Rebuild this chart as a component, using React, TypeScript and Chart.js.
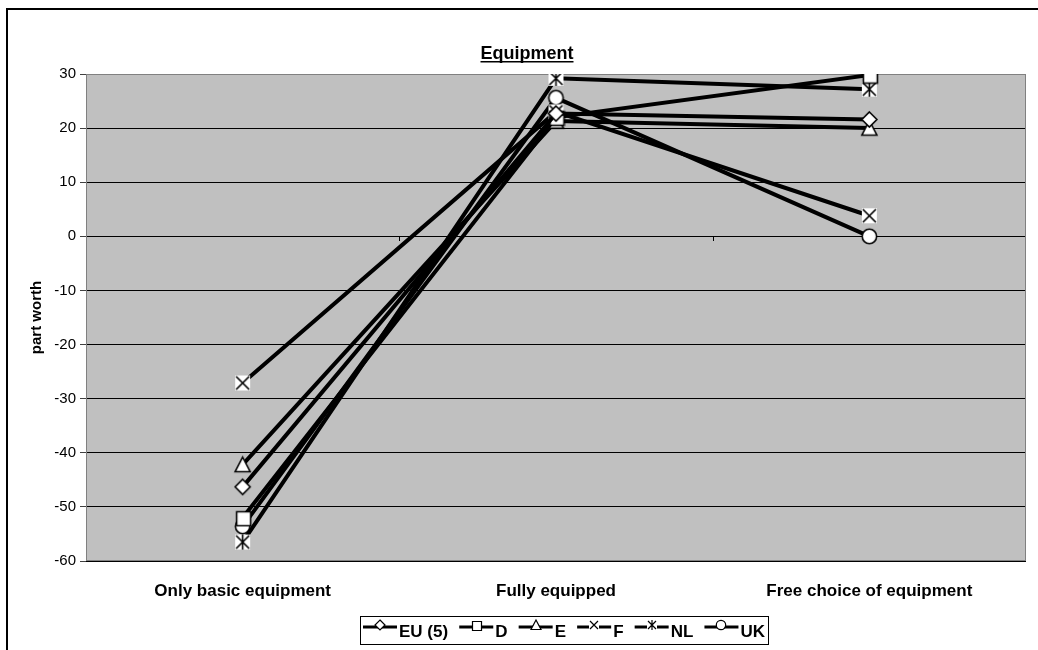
import React, { useEffect, useRef } from "react";
import { Chart, registerables } from "chart.js";
Chart.register(...registerables);

const categories = ["Only basic equipment", "Fully equipped", "Free choice of equipment"];
const seriesNames = ["EU (5)", "D", "E", "F", "NL", "UK"];
const euValues = [-46.3, 22.7, 21.6];
const dValues = [-52.0, 22.0, 29.8];
const eValues = [-42.2, 21.3, 20.0];
const fValues = [-27.1, 23.0, 3.8];
const nlValues = [-56.5, 29.2, 27.2];
const ukValues = [-53.6, 25.6, 0.0];
const markerKinds = ["diamond", "square", "triangle", "x", "star", "circle"];
const yMin = -60;
const yMax = 30;
const yStep = 10;
const chartTitle = "Equipment";
const yAxisTitle = "part worth";

const FONT = "'Liberation Sans', Arial, sans-serif";

function makeMarker(kind: string, size: number, lw: number): HTMLCanvasElement {
  const c = document.createElement("canvas");
  const dim = size + 4;
  c.width = dim;
  c.height = dim;
  const ctx = c.getContext("2d")!;
  const m = dim / 2;
  const h = size / 2;
  ctx.lineWidth = lw;
  ctx.strokeStyle = "#000";
  ctx.fillStyle = "#fff";
  ctx.lineJoin = "miter";
  ctx.beginPath();
  if (kind === "diamond") {
    ctx.moveTo(m, m - h);
    ctx.lineTo(m + h, m);
    ctx.lineTo(m, m + h);
    ctx.lineTo(m - h, m);
    ctx.closePath();
    ctx.fill();
    ctx.stroke();
  } else if (kind === "square") {
    const s = Math.round(size) - 1;
    const x0 = Math.round(m - s / 2) + 0.5;
    ctx.rect(x0, x0, s, s);
    ctx.fill();
    ctx.stroke();
  } else if (kind === "triangle") {
    ctx.moveTo(m, m - h);
    ctx.lineTo(m + h, m + h - 0.5);
    ctx.lineTo(m - h, m + h - 0.5);
    ctx.closePath();
    ctx.fill();
    ctx.stroke();
  } else if (kind === "circle") {
    ctx.arc(m, m, h - 0.3, 0, Math.PI * 2);
    ctx.fill();
    ctx.stroke();
  } else if (kind === "x" || kind === "star") {
    ctx.fillRect(m - h, m - h, size, size);
    ctx.beginPath();
    ctx.moveTo(m - h + 1, m - h + 1);
    ctx.lineTo(m + h - 1, m + h - 1);
    ctx.moveTo(m + h - 1, m - h + 1);
    ctx.lineTo(m - h + 1, m + h - 1);
    if (kind === "star") {
      ctx.moveTo(m, m - h);
      ctx.lineTo(m, m + h);
    }
    ctx.stroke();
  }
  return c;
}

export default function App() {
  const ref = useRef<HTMLCanvasElement | null>(null);

  useEffect(() => {
    document.body.style.margin = "0";
    const canvas = ref.current!;
    const seriesValues = [euValues, dValues, eValues, fValues, nlValues, ukValues];
    const plotMarkers = markerKinds.map((k) => makeMarker(k, 15, 1.6));
    const legendMarkers = markerKinds.map((k) => makeMarker(k, 10, 1.2));

    const decor = {
      id: "decor",
      beforeDraw(chart: any) {
        const { ctx, chartArea: a } = chart;
        ctx.save();
        ctx.fillStyle = "#C0C0C0";
        ctx.fillRect(a.left, a.top, a.right - a.left, a.bottom - a.top);
        ctx.restore();
      },
      beforeDatasetsDraw(chart: any) {
        const { ctx, chartArea: a } = chart;
        const y0 = chart.scales.y.getPixelForValue(0);
        ctx.save();
        ctx.strokeStyle = "#808080";
        ctx.lineWidth = 1;
        ctx.strokeRect(Math.round(a.left) + 0.5, Math.round(a.top) + 0.5, Math.round(a.right - a.left) - 1, Math.round(a.bottom - a.top) - 1);
        ctx.strokeStyle = "#000";
        const w = (a.right - a.left) / categories.length;
        ctx.beginPath();
        for (let k = 1; k < categories.length; k++) {
          const x = Math.round(a.left + k * w) + 0.5;
          ctx.moveTo(x, Math.round(y0));
          ctx.lineTo(x, Math.round(y0) + 5);
        }
        ctx.stroke();
        ctx.restore();
      },
      afterDraw(chart: any) {
        const { ctx, chartArea: a } = chart;
        ctx.save();
        ctx.strokeStyle = "#000";
        ctx.lineWidth = 2;
        ctx.strokeRect(7, 9, 1100, 700);
        ctx.fillStyle = "#000";
        ctx.font = `bold 18px ${FONT}`;
        ctx.textAlign = "center";
        ctx.textBaseline = "alphabetic";
        const tx = 527;
        ctx.fillText(chartTitle, tx, 59);
        const tw = ctx.measureText(chartTitle).width;
        ctx.fillRect(tx - tw / 2, 61, tw, 1.5);
        ctx.save();
        ctx.translate(37, (a.top + a.bottom) / 2);
        ctx.rotate(-Math.PI / 2);
        ctx.font = `bold 15px ${FONT}`;
        ctx.textAlign = "center";
        ctx.textBaseline = "middle";
        ctx.fillText(yAxisTitle, 0, 0);
        ctx.restore();
        const bx = 360, by = 616, bw = 408, bh = 28;
        ctx.lineWidth = 1;
        ctx.strokeStyle = "#000";
        ctx.strokeRect(bx + 0.5, by + 0.5, bw, bh);
        ctx.font = `bold 17px ${FONT}`;
        const lineLen = 34;
        const gapText = 2;
        const widths = seriesNames.map((n) => ctx.measureText(n).width);
        const content = widths.reduce((s, v) => s + v, 0) + seriesNames.length * (lineLen + gapText);
        const gap = (bw - 6 - content) / (seriesNames.length - 1);
        let x = bx + 3;
        const cy = by + bh / 2 + 0.5;
        ctx.textAlign = "left";
        ctx.textBaseline = "middle";
        seriesNames.forEach((n, i) => {
          ctx.fillStyle = "#000";
          ctx.fillRect(x, Math.round(cy - 4) - 1.5, lineLen, 3);
          const mk = legendMarkers[i];
          ctx.drawImage(mk, Math.round(x + lineLen / 2 - mk.width / 2), Math.round(cy - 5.5 - mk.height / 2));
          ctx.fillText(n, x + lineLen + gapText, cy + 2);
          x += lineLen + gapText + widths[i] + gap;
        });
        ctx.restore();
      },
    };

    const chart = new Chart(canvas, {
      type: "line",
      data: {
        labels: categories,
        datasets: seriesNames.map((name, i) => ({
          label: name,
          data: seriesValues[i],
          borderColor: "#000",
          borderWidth: 4,
          pointStyle: plotMarkers[i] as any,
          pointRadius: 8,
          pointHoverRadius: 8,
          tension: 0,
          fill: false,
        })),
      },
      options: {
        responsive: false,
        animation: false,
        events: [],
        layout: { padding: { top: 74, right: 9, left: 0, bottom: 0 } },
        plugins: {
          legend: { display: false },
          title: { display: false },
          tooltip: { enabled: false },
        },
        scales: {
          x: {
            offset: true,
            grid: { display: false, drawTicks: false },
            border: { display: false },
            ticks: {
              color: "#000",
              padding: 20,
              maxRotation: 0,
              font: { family: FONT, size: 17, weight: "bold" },
            },
            afterFit(s: any) {
              s.height = 89;
              s.paddingLeft = 0;
              s.paddingRight = 0;
            },
          },
          y: {
            min: yMin,
            max: yMax,
            border: { display: false },
            grid: { color: "#000", lineWidth: 1, tickLength: 6, tickColor: "#404040" },
            ticks: {
              stepSize: yStep,
              color: "#000",
              padding: 4,
              font: { family: FONT, size: 15 },
            },
            afterFit(s: any) {
              s.width = 86;
              s.paddingTop = 0;
              s.paddingBottom = 0;
            },
          },
        },
      },
      plugins: [decor],
    });
    return () => chart.destroy();
  }, []);

  return <canvas ref={ref} width={1038} height={650} style={{ display: "block" }} />;
}
